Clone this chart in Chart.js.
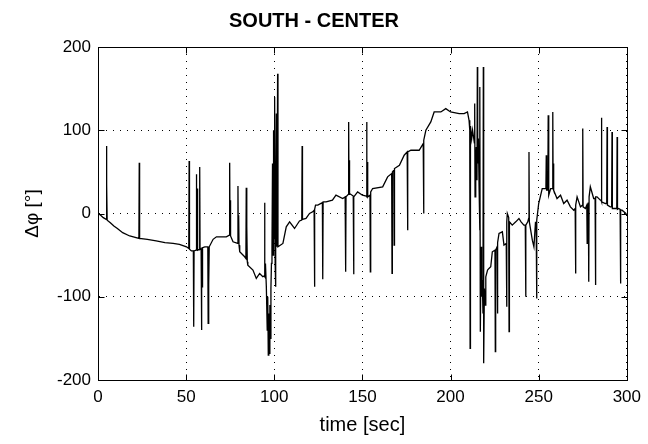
<!DOCTYPE html>
<html>
<head>
<meta charset="utf-8">
<script src="https://cdn.jsdelivr.net/npm/chart.js@4"></script>
<style>
  html, body { margin: 0; padding: 0; background: #fff; }
  #wrap { width: 648px; height: 444px; }
</style>
</head>
<body>
<div id="wrap"><canvas id="plot" width="648" height="444"></canvas></div>
<script>
const chartTitle = 'SOUTH - CENTER';
const xLabel = 'time [sec]';
const yLabel = 'Δφ [°]';
const xTicks = [0, 50, 100, 150, 200, 250, 300];
const yTicks = [-200, -100, 0, 100, 200];

// [time (sec), delta phi (deg)]
const part1 = [
  [0, 0], [1.5, -2], [3, -5], [4.6, -7], [4.8, 81], [5.0, 35], [5.2, -8], [7, -11], [9, -15], [11, -18],
  [14, -23], [18, -27], [23.2, -30], [23.4, 61], [23.6, -30], [28, -31], [33, -33], [38, -35], [42.6, -36],
  [46.2, -37], [50.2, -40], [51.5, -42], [51.7, 63], [51.9, -43], [53, -45], [54.1, -45], [54.3, -136],
  [54.5, -45], [55.6, -44], [55.8, 47], [56.0, -44], [56.3, 30], [56.5, -44], [57.5, -43], [57.7, 56],
  [57.9, -43], [58.5, -42], [58.7, -140], [58.9, -42], [59.1, -88], [59.3, -41], [60.6, -40], [62.3, -40],
  [62.5, -132], [62.7, -40], [62.9, -85], [63.1, -40], [65.3, -31], [67.2, -28], [70, -28], [72.8, -28]
];
const part2 = [
  [74.5, -26], [74.7, 61], [74.9, -26], [75.1, 16], [75.3, -27], [76.6, -34], [79.2, -36], [79.4, 33],
  [79.6, -36], [79.8, -2], [80.0, -38], [80.4, -46], [83.2, -52], [83.9, -54], [84.1, 31], [84.3, -55],
  [84.5, -15], [84.7, -58], [85, -62], [87.9, -68], [89.8, -78], [91.7, -72], [93.5, -76], [94.3, -75],
  [94.5, 13], [94.7, -76], [95, -60], [95.5, -88], [96, -140], [96.3, -100], [96.6, -170], [96.9, -120],
  [97.2, -168], [97.5, -110], [97.8, -150], [98.1, -90], [98.4, -60], [98.7, -40], [99.0, 60], [99.3, -50],
  [99.6, 100], [99.9, -30], [100.2, 140], [100.5, -60], [100.7, -88], [100.9, -40], [101.2, 120],
  [101.5, -40], [101.9, 168], [102.1, -40]
];
const part3 = [
  [104.9, -36], [106.8, -16], [108.7, -10], [111.5, -18], [114.3, -9], [115.6, -8], [115.8, 81], [116, -7],
  [118, -6], [120, 0], [121.8, 2], [122.6, 4], [122.8, -88], [123.0, 5], [123.4, 10], [124.7, 10],
  [127.3, 13], [127.5, -79], [127.7, 14], [129.4, 14], [133, 16], [135, 22], [138.8, 18], [140.2, 20],
  [140.5, -70], [140.7, 20], [142, 23], [142.2, 110], [142.4, 23], [142.6, 64], [142.8, 24], [144.8, 21],
  [145, -73], [145.2, 20], [147.3, 26], [150, 22], [152.2, 21], [152.4, 110], [152.6, 20], [152.8, 62],
  [153, 20], [154.3, 22], [154.5, -70], [154.7, 26], [155.8, 30], [161.5, 32], [164.3, 44], [166.6, 48],
  [166.8, -72], [167, 50], [167.8, 52], [168, -38], [168.2, 54], [171, 58], [173.7, 70], [175.4, 74],
  [175.6, -20], [175.8, 74], [177.5, 76], [182.2, 76], [184.5, 84], [184.7, 0], [184.9, 88], [186, 100],
  [188.8, 110], [190.7, 122], [194.5, 122], [197.3, 126], [200, 122], [204.9, 120], [207.7, 120],
  [209.6, 122], [210.5, 112]
];
const part4 = [
  [210.9, 100], [211.1, -162], [211.3, 105], [212, 90], [212.5, 100], [213.5, 85], [213.7, 132], [213.9, 20],
  [214.3, 60], [214.6, 80], [215.0, 40], [215.2, 176], [215.4, 60], [215.8, 90], [216.2, 30], [216.5, -20],
  [216.7, 152], [216.9, -142], [217.3, -40], [217.6, -100], [218, -80], [218.4, -120], [218.6, 176],
  [218.8, -180], [219.2, -90], [219.6, -110], [220, -76], [221, -68], [221.8, -66], [222.8, -64],
  [223.7, -46], [225.2, -44], [225.4, -166], [225.6, -44], [226.4, -40], [226.6, -120], [226.8, -35],
  [227.5, -24], [229.4, -22], [230.3, -38], [231.6, -36], [231.8, -112], [232, -10], [232.2, 0], [233, -5],
  [233.2, -142], [233.4, -10], [235, -14], [237, -10], [238.8, -6], [240, -10], [241.6, -14], [242.4, -14],
  [242.6, -100], [242.8, -14], [243.8, -10], [244.3, -6], [244.5, 74], [244.7, -10], [246.4, -32],
  [247.3, -40], [248.2, -10], [248.6, -20], [248.8, -102], [249, -8], [250, 12]
];
const part5 = [
  [252, 30], [253, 30], [254.1, 30], [254.3, 70], [254.5, 28], [255.2, 28], [255.4, 118], [255.6, 24],
  [255.8, 22], [256.8, 30], [257.8, 30], [258, 122], [258.2, 30], [258.4, 60], [258.6, 28], [260.4, 18],
  [262.4, 22], [264.2, 12], [266.1, 16], [268, 8], [269.9, 4], [270.7, 6], [270.9, -72], [271.1, 10],
  [271.8, 20], [273.7, 8], [274.8, 10], [275, 102], [275.2, 8], [276.5, 6], [277.3, 10], [277.5, -36],
  [277.7, 10], [278.2, 12], [278.4, -82], [278.6, 20], [279.3, 32], [281.2, 18], [282, 18], [282.2, -86],
  [282.4, 20], [283.1, 20], [285, 16], [285.4, 16], [285.6, 115], [285.8, 14], [287.8, 12], [288.6, 12],
  [288.8, 104], [289, 10], [290.6, 8], [291.4, 8], [291.6, 98], [291.8, 6], [292.5, 6], [294.3, 6],
  [294.5, 92], [294.7, 5], [295.4, 6], [296.2, 5], [296.4, -84], [296.6, 4], [297.3, 4], [299.5, 0], [300, -2]
];

const FONT = '"Liberation Sans", Arial, sans-serif';

function buildPoints() {
  let pts = [];
  const parts = [part1, part2, part3, part4, part5];
  for (let i = 0; i < parts.length; i++) {
    for (let j = 0; j < parts[i].length; j++) {
      pts.push({ x: parts[i][j][0], y: parts[i][j][1] });
    }
  }
  return pts;
}

// box around the axes plus inward tick marks, matlab style
const boxPlugin = {
  id: 'box',
  afterDraw(chart) {
    const ctx = chart.ctx;
    const a = chart.chartArea;
    const xs = chart.scales.x;
    const ys = chart.scales.y;
    const L = Math.round(a.left) + 0.5, R = Math.round(a.right) + 0.5;
    const T = Math.round(a.top) + 0.5, B = Math.round(a.bottom) + 0.5;
    ctx.save();
    ctx.strokeStyle = '#000';
    ctx.lineWidth = 1;
    ctx.setLineDash([]);
    ctx.strokeRect(L, T, R - L, B - T);
    ctx.beginPath();
    xTicks.forEach(v => {
      const px = Math.round(xs.getPixelForValue(v)) + 0.5;
      ctx.moveTo(px, B); ctx.lineTo(px, B - 6);
      ctx.moveTo(px, T); ctx.lineTo(px, T + 6);
    });
    yTicks.forEach(v => {
      const py = Math.round(ys.getPixelForValue(v)) + 0.5;
      ctx.moveTo(L, py); ctx.lineTo(L + 6, py);
      ctx.moveTo(R, py); ctx.lineTo(R - 6, py);
    });
    ctx.stroke();
    ctx.restore();
  }
};

new Chart(document.getElementById('plot'), {
  type: 'line',
  data: {
    datasets: [{
      data: buildPoints(),
      borderColor: '#000',
      borderWidth: 1.3,
      pointRadius: 0,
      fill: false,
      tension: 0
    }]
  },
  options: {
    responsive: false,
    animation: false,
    layout: { padding: { left: 0, right: 20, top: 0, bottom: 0 } },
    plugins: {
      legend: { display: false },
      tooltip: { enabled: false },
      title: {
        display: true,
        text: chartTitle,
        color: '#000',
        font: { family: FONT, size: 20, weight: 'bold', lineHeight: 1.2 },
        padding: { top: 9, bottom: 14 }
      }
    },
    scales: {
      x: {
        type: 'linear',
        min: 0,
        max: 300,
        afterBuildTicks: s => { s.ticks = xTicks.map(v => ({ value: v })); },
        afterFit: s => { s.height = 64; },
        ticks: { color: '#000', font: { family: FONT, size: 17 }, padding: 7, maxRotation: 0 },
        grid: { color: '#000', lineWidth: 1, drawTicks: false },
        border: { display: true, color: '#000', dash: [1, 6] },
        title: { display: true, text: xLabel, color: '#000', font: { family: FONT, size: 20, lineHeight: 1.2 }, padding: { top: 0, bottom: 7 } }
      },
      y: {
        type: 'linear',
        min: -200,
        max: 200,
        afterBuildTicks: s => { s.ticks = yTicks.map(v => ({ value: v })); },
        afterFit: s => { s.width = 98; },
        ticks: { color: '#000', font: { family: FONT, size: 17 }, padding: 7 },
        grid: { color: '#000', lineWidth: 1, drawTicks: false },
        border: { display: true, color: '#000', dash: [1, 6] },
        title: { display: true, text: yLabel, color: '#000', font: { family: FONT, size: 19, lineHeight: 1.2 }, padding: { top: 21, bottom: 0 } }
      }
    }
  },
  plugins: [boxPlugin]
});
</script>
</body>
</html>
